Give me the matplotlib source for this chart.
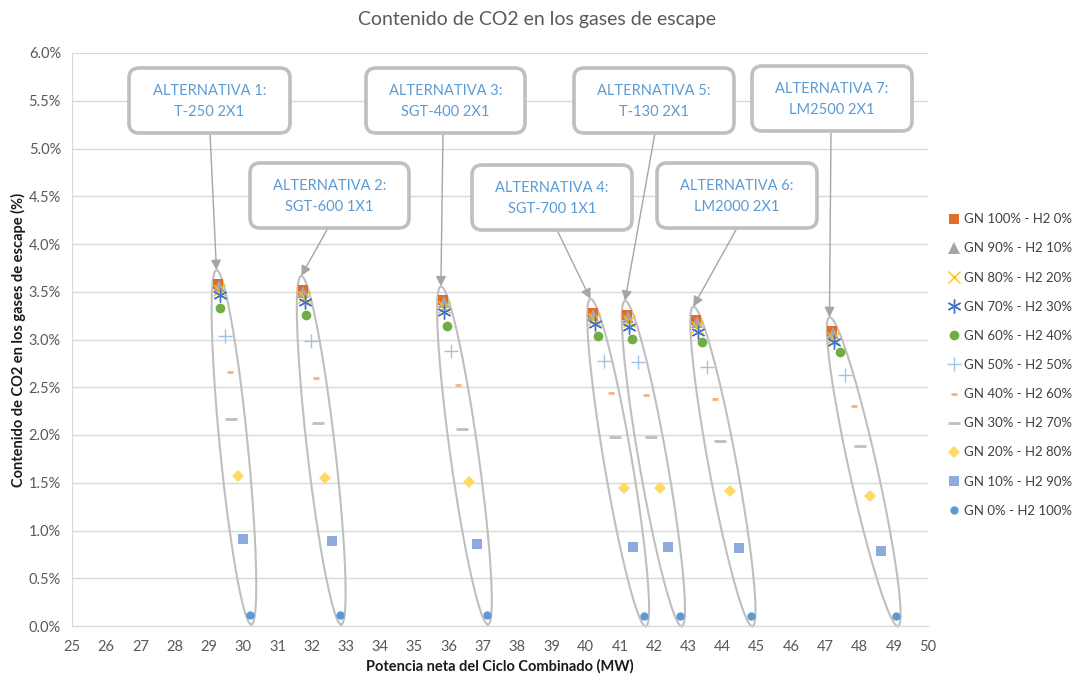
import matplotlib
matplotlib.use('Agg')
import matplotlib.pyplot as plt
import numpy as np
from matplotlib.patches import FancyBboxPatch
from matplotlib.ticker import FuncFormatter, MultipleLocator
from matplotlib.transforms import IdentityTransform

# ---------------- data ----------------
labels = ["GN 100% - H2 0%", "GN 90% - H2 10%", "GN 80% - H2 20%", "GN 70% - H2 30%",
          "GN 60% - H2 40%", "GN 50% - H2 50%", "GN 40% - H2 60%", "GN 30% - H2 70%",
          "GN 20% - H2 80%", "GN 10% - H2 90%", "GN 0% - H2 100%"]

alternativas = ["ALTERNATIVA 1:\nT-250 2X1", "ALTERNATIVA 2:\nSGT-600 1X1", "ALTERNATIVA 3:\nSGT-400 2X1",
                "ALTERNATIVA 4:\nSGT-700 1X1", "ALTERNATIVA 5:\nT-130 2X1", "ALTERNATIVA 6:\nLM2000 2X1",
                "ALTERNATIVA 7:\nLM2500 2X1"]

x_h2_0 = [29.26, 31.74, 35.83, 40.21, 41.22, 43.22, 47.21]
y_h2_0 = [3.58, 3.52, 3.41, 3.28, 3.26, 3.20, 3.09]
x_h2_10 = [29.28, 31.76, 35.85, 40.23, 41.24, 43.24, 47.23]
y_h2_10 = [3.56, 3.50, 3.39, 3.26, 3.24, 3.18, 3.07]
x_h2_20 = [29.30, 31.78, 35.86, 40.25, 41.26, 43.26, 47.24]
y_h2_20 = [3.52, 3.45, 3.34, 3.21, 3.19, 3.13, 3.02]
x_h2_30 = [29.31, 31.80, 35.87, 40.28, 41.28, 43.28, 47.26]
y_h2_30 = [3.47, 3.39, 3.29, 3.16, 3.13, 3.08, 2.97]
x_h2_40 = [29.32, 31.84, 35.96, 40.37, 41.36, 43.39, 47.43]
y_h2_40 = [3.33, 3.26, 3.14, 3.04, 3.01, 2.97, 2.87]
x_h2_50 = [29.46, 31.99, 36.08, 40.54, 41.53, 43.54, 47.57]
y_h2_50 = [3.04, 2.98, 2.88, 2.77, 2.76, 2.71, 2.63]
x_h2_60 = [29.61, 32.12, 36.26, 40.73, 41.75, 43.79, 47.83]
y_h2_60 = [2.66, 2.60, 2.52, 2.44, 2.42, 2.38, 2.30]
x_h2_70 = [29.65, 32.19, 36.39, 40.86, 41.90, 43.92, 48.01]
y_h2_70 = [2.17, 2.13, 2.06, 1.98, 1.98, 1.94, 1.88]
x_h2_80 = [29.85, 32.40, 36.60, 41.12, 42.16, 44.23, 48.32]
y_h2_80 = [1.57, 1.55, 1.51, 1.44, 1.44, 1.41, 1.36]
x_h2_90 = [29.99, 32.59, 36.84, 41.38, 42.41, 44.48, 48.64]
y_h2_90 = [0.91, 0.89, 0.86, 0.83, 0.83, 0.82, 0.79]
x_h2_100 = [30.21, 32.83, 37.11, 41.71, 42.76, 44.82, 49.06]
y_h2_100 = [0.12, 0.12, 0.12, 0.10, 0.10, 0.10, 0.10]

xs = [x_h2_0, x_h2_10, x_h2_20, x_h2_30, x_h2_40, x_h2_50, x_h2_60, x_h2_70, x_h2_80, x_h2_90, x_h2_100]
ys = [y_h2_0, y_h2_10, y_h2_20, y_h2_30, y_h2_40, y_h2_50, y_h2_60, y_h2_70, y_h2_80, y_h2_90, y_h2_100]

# ---------------- styles ----------------
styles = [
    dict(marker='s', ms=7.5, color='#E46C2A', mew=0),
    dict(marker='^', ms=8, color='#A5A5A5', mew=0),
    dict(marker='x', ms=8, color='#FFC000', mew=1.0),
    dict(marker=(6, 2, 0), ms=10, color='#4472C4', mew=1.0),
    dict(marker='o', ms=7, color='#70AD47', mew=0),
    dict(marker='+', ms=10, color='#9DC3E6', mew=1.0),
    dict(marker='_', ms=5, color='#F4B183', mew=2.0),
    dict(marker='_', ms=8, color='#BFBFBF', mew=2.0),
    dict(marker='D', ms=6.5, color='#FFD966', mew=0),
    dict(marker='s', ms=7.5, color='#8FAADC', mew=0),
    dict(marker='o', ms=6, color='#5B9BD5', mew=0),
]

plt.rcParams['font.family'] = ['Lato', 'DejaVu Sans']

W, H = 1077, 675
fig = plt.figure(figsize=(W / 100, H / 100), dpi=100)
ax = fig.add_axes([72 / W, 1 - 626 / H, (928 - 72) / W, (626 - 53) / H])
ax.set_xlim(25, 50)
ax.set_ylim(0, 6)
ax.xaxis.set_major_locator(MultipleLocator(1))
ax.yaxis.set_major_locator(MultipleLocator(0.5))
ax.yaxis.set_major_formatter(FuncFormatter(lambda v, p: f"{v:.1f}%"))
ax.grid(axis='y', color='#D9D9D9', lw=1)
ax.set_axisbelow(True)
for s in ['top', 'right']:
    ax.spines[s].set_visible(False)
for s in ['left', 'bottom']:
    ax.spines[s].set_color('#D9D9D9')
ax.tick_params(length=0, labelsize=10.5, labelcolor='#595959')
ax.tick_params(axis='x', pad=10)
ax.tick_params(axis='y', pad=8)

ax.set_xlabel("Potencia neta del Ciclo Combinado (MW)", fontsize=10.5, fontweight='bold', color='#1a1a1a', labelpad=4)
ax.set_ylabel("Contenido de CO2 en los gases de escape (%)", fontsize=10.5, fontweight='bold', color='#1a1a1a', labelpad=2)
fig.text(537 / W, 1 - 20 / H, "Contenido de CO2 en los gases de escape", ha='center', va='center',
         fontsize=14, color='#595959')

handles = []
for x, y, st, lab in zip(xs, ys, styles, labels):
    h, = ax.plot(x, y, ls='none', label=lab, zorder=3, mec=st['color'], **st)
    handles.append(h)

# ---------------- ellipses (computed in pixel space) ----------------
fig.canvas.draw()
trans = ax.transData
inv = trans.inverted()
ext_top, ext_bot, half_minor = 14, 10, 14
tops = []
for i in range(7):
    p1 = trans.transform((x_h2_0[i], y_h2_0[i]))
    p2 = trans.transform((x_h2_100[i], y_h2_100[i]))
    d = p2 - p1
    L = np.hypot(*d)
    u = d / L
    n = np.array([-u[1], u[0]])
    a = L / 2 + (ext_top + ext_bot) / 2
    c = (p1 + p2) / 2 + u * (ext_bot - ext_top) / 2
    t = np.linspace(0, 2 * np.pi, 300)
    pts = c[None, :] + np.outer(np.cos(t) * a, u) + np.outer(np.sin(t) * half_minor, n)
    dp = inv.transform(pts)
    ax.plot(dp[:, 0], dp[:, 1], color='#BFBFBF', lw=1.5, zorder=2, clip_on=False)
    tops.append(c - u * a)

# ---------------- callouts ----------------
boxes = [(129, 68, 290, 133), (250, 163, 409, 228), (366, 68, 525, 133), (472, 165, 632, 230),
         (574, 68, 734, 133), (657, 163, 817, 228), (752, 66, 912, 131)]
starts = [(210, 133), (328, 228), (443, 133), (557, 230), (655, 133), (737, 228), (831, 131)]
for i, (x0, y0, x1, y1) in enumerate(boxes):
    r = 10
    patch = FancyBboxPatch((x0 + r, H - y1 + r), (x1 - x0) - 2 * r, (y1 - y0) - 2 * r,
                           boxstyle=f"round,pad={r},rounding_size={r}", transform=IdentityTransform(),
                           facecolor='white', edgecolor='#BFBFBF', lw=2.6, zorder=5)
    fig.add_artist(patch)
    fig.text((x0 + x1) / 2 / W, 1 - ((y0 + y1) / 2 + 1) / H, alternativas[i], ha='center', va='center',
             fontsize=10.5, color='#5B9BD5', linespacing=1.6, zorder=6)
    sx, sy = starts[i]
    ax.annotate('', xy=(tops[i][0], tops[i][1]), xycoords='figure pixels',
                xytext=(sx, H - sy), textcoords='figure pixels',
                arrowprops=dict(arrowstyle='-|>,head_length=0.6,head_width=0.3', color='#A6A6A6',
                                lw=1.0, shrinkA=0, shrinkB=0), zorder=4, annotation_clip=False)

fig.legend(handles=handles, labels=labels, loc='center left', bbox_to_anchor=(943 / W, 1 - 365 / H),
           frameon=False, fontsize=9.5, handlelength=0.9, handletextpad=0.3, labelspacing=1.3,
           labelcolor='#404040', borderaxespad=0)

fig.savefig('out.png', dpi=100, facecolor='white')
